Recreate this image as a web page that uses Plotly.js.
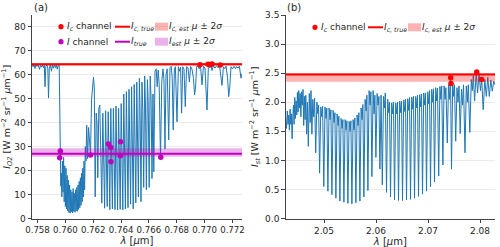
<!DOCTYPE html>
<html>
<head>
<meta charset="utf-8">
<script src="https://cdn.plot.ly/plotly-3.0.1.min.js"></script>
<style>html,body{margin:0;padding:0;background:#fff}#chart{width:500px;height:247px}</style>
</head>
<body>
<div id="chart"></div>
<script>
// ---------- Panel (a): O2 A-band ----------
const wlA = [0.757605,0.757677,0.757749,0.757821,0.757892,0.757964,0.758036,0.758144,0.758215,0.758287,0.758359,0.758431,0.758488,0.758539,0.758596,0.758668,0.758740,0.758790,0.758847,0.758919,0.759005,0.759063,0.759134,0.759206,0.759278,0.759350,0.759414,0.759486,0.759558,
0.759608,0.759637,0.759673,0.759709,0.759745,0.759788,0.759831,0.759874,0.759917,0.759960,0.760003,0.760046,0.760089,0.760132,0.760176,0.760219,0.760262,0.760305,0.760348,0.760391,0.760434,0.760477,0.760520,0.760563,0.760606,0.760649,0.760693,0.760736,0.760779,0.760822,0.760865,0.760908,0.760951,0.760994,0.761037,0.761080,0.761123,0.761166,0.761209,0.761253,0.761296,0.761339,0.761382,0.761432,0.761482,0.761533,0.761597,0.761669,0.761741,0.761805,
0.761884,0.761956,0.762021,0.762078,0.762143,0.762215,0.762272,0.762330,0.762401,0.762473,0.762545,0.762617,0.762689,0.762746,0.762818,0.762890,0.762947,0.763004,0.763076,0.763134,0.763191,0.763263,0.763320,0.763378,0.763449,0.763507,0.763565,0.763636,0.763694,0.763751,0.763823,0.763880,0.763938,0.764010,0.764067,0.764125,0.764196,0.764254,0.764311,0.764383,0.764440,0.764498,0.764570,0.764627,0.764684,0.764756,0.764814,0.764871,0.764943,0.765000,0.765058,0.765129,0.765187,0.765244,0.765316,0.765373,0.765431,0.765503,0.765560,0.765625,0.765697,0.765754,0.765819,0.765891,0.765948,0.766020,0.766092,0.766156,0.766221,0.766293,0.766350,
0.766437,0.766523,0.766594,0.766666,0.766738,0.766831,0.766924,0.767011,0.767082,0.767154,0.767226,0.767312,0.767420,0.767514,0.767600,0.767671,0.767743,0.767830,0.767901,0.768016,0.768117,0.768203,0.768275,0.768346,0.768432,0.768519,0.768612,0.768706,0.768806,0.768906,0.768993,0.769093,0.769201,0.769280,0.769352,0.769423,0.769524,0.769617,0.769703,0.769811,0.769919,0.770027,0.770170,0.770271,0.770386,0.770458,0.770529,0.770630,0.770745,0.770852,0.770960,0.771068,0.771176,0.771248,0.771348,0.771449,0.771535,0.771643,0.771729,0.771808,0.771894,0.772001,0.772109,0.772210,0.772296,0.772397,0.772497,0.772612,0.772684];
const radA = [64.2,63.4,64.3,62.6,64.2,63.5,64.3,62.3,64.0,63.2,64.2,63.0,64.0,55.0,63.5,64.2,62.8,50.3,62.5,64.2,61.5,64.1,62.8,64.2,63.0,64.2,62.4,64.0,64.2,
40,22,13.5,19,9,24,11,25.5,7,22,5,21,4,18,3.2,16,2.5,14,2.2,12,2.8,11,2.3,12.5,3,10.5,2.6,12,3.2,13,3,14,3.8,15.5,4.5,17,5.5,19,7,21,9,24,12,30,24,39,25,38,33,26.5,
50,57,59,54.5,9,44,40,17,46,47.4,27,6.4,44,30,4.3,45,22,5,44.6,28,3.7,46,20,4,46,26,3.7,47,22,3.6,46,28,3.8,48,25,3.6,52,30,4,53,32,4.5,54,34,6,55,36,4,56,38,6.5,57,40,9,58.6,42,7,57,45,13,59.5,47,12,58,49,13,59.5,50,16.7,52,19.5,
61.5,62.5,55,62,56,25,57,62.5,58,29,60,62.5,32.8,63,63.6,59,37,62.5,63.4,40.4,63.4,61.5,63.2,44,63.4,62.4,46.7,63.4,63,57,63.5,62.4,58.5,51.6,55,63.4,63.6,62.5,64,55.8,63.6,62.8,45.3,63.6,63,64,61.8,63.8,62.8,63.8,63,64,60,55.6,63.4,62.6,63.6,59,50.9,55,63.4,62.5,63.6,62.6,63.5,62.8,63.6,58.6,60.5];
const chanA_c_wl  = [0.769668,0.770242,0.770407,0.770529,0.771125];
const chanA_c_val = [64.2,64.4,64.3,64.5,64.1];
const chanA_i_wl  = [0.759637,0.759594,0.761805,0.763091,0.763263,0.763277,0.763959,0.763945,0.766853];
const chanA_i_val = [28.2,25.4,26.5,31.1,29.7,23.7,32.1,26.2,25.6];
const trueA_c = 64.4;
const bandA_c = [63.8, 65.0];
const trueA_i = 27.0;
const bandA_i = [25.8, 29.3];
const xTicksA = [0.758,0.760,0.762,0.764,0.766,0.768,0.770,0.772];

// ---------- Panel (b): strong CO2 band ----------
const wlB = [2.042635,2.042788,2.042942,2.043077,2.043212,2.043346,2.043481,2.043615,2.043731,2.043865,2.044000,2.044135,2.044250,2.044385,2.044500,2.044635,2.044769,2.044885,2.045019,2.045154,2.045288,2.045423,2.045558,2.045692,2.045827,2.045962,2.046096,2.046231,2.046365,2.046500,2.046654,2.046808,2.046981,2.047173,2.047346,2.047500,2.047673,2.047846,2.048019,2.048192,2.048404,2.048635,2.048808,2.048962,2.049154,2.049385,2.049577,2.049731,2.049962,
2.050192,2.050385,2.050538,2.050750,2.050981,2.051173,2.051327,2.051519,2.051750,2.051942,2.052096,2.052288,2.052519,2.052712,2.052865,2.053058,2.053288,2.053481,2.053635,2.053827,2.054058,2.054250,2.054404,2.054596,2.054827,2.055019,2.055173,2.055365,2.055596,2.055788,2.055942,2.056135,2.056365,2.056558,2.056712,2.056904,2.057135,2.057327,2.057481,2.057673,2.057904,2.058096,2.058250,2.058442,2.058673,2.058865,2.059019,2.059212,2.059442,2.059635,2.059788,2.059981,
2.060212,2.060404,2.060558,2.060750,2.060981,2.061212,2.061442,2.061635,2.061788,2.062019,2.062250,2.062442,2.062596,2.062788,2.063019,2.063212,2.063365,2.063558,2.063788,2.063981,2.064135,2.064327,2.064558,2.064750,2.064904,2.065096,2.065327,2.065519,2.065673,2.065865,2.066096,2.066288,2.066442,2.066635,2.066865,2.067058,2.067212,2.067404,2.067635,2.067827,2.067981,2.068173,2.068404,2.068596,2.068750,2.068942,2.069173,2.069365,2.069519,2.069712,2.069942,
2.070135,2.070288,2.070481,2.070712,2.070904,2.071058,2.071250,2.071481,2.071673,2.071827,2.072058,2.072288,2.072481,2.072635,2.072865,2.073096,2.073288,2.073442,2.073712,2.073942,2.074135,2.074327,2.074519,2.074750,2.074942,2.075096,2.075327,2.075577,2.075769,2.075962,2.076192,2.076442,2.076635,2.076827,2.077115,2.077365,2.077558,2.077750,2.078038,2.078327,2.078519,2.078712,2.078962,2.079269,2.079538,2.079808,2.080096,2.080327,2.080615,2.080923,2.081212,2.081500,2.081788,2.082077,2.082365,2.082635,2.082885];
const radB = [1.72,1.55,1.85,1.62,1.78,1.52,1.88,1.62,1.8,1.37,1.75,1.95,1.62,2.08,1.72,2.02,1.78,2.17,1.83,2.2,1.9,2.15,1.75,2.18,1.95,2.22,1.6,2.1,1.7,2.12,1.45,2.0,1.24,2.15,1.65,2.2,1.45,2.05,1.75,2.07,1.13,2.0,1.8,1.95,0.78,1.92,1.75,1.93,0.55,
1.92,1.72,1.9,0.47,1.9,1.7,1.87,0.41,1.86,1.65,1.82,0.35,1.8,1.6,1.76,0.3,1.72,1.55,1.7,0.28,1.7,1.52,1.68,0.26,1.67,1.5,1.68,0.25,1.7,1.52,1.73,0.27,1.78,1.6,1.82,0.3,1.9,1.7,1.96,0.37,2.05,1.85,2.12,0.48,2.2,1.95,2.18,0.72,2.2,1.8,2.12,1.05,
2.15,1.95,2.1,0.85,2.12,0.58,2.1,1.9,2.16,0.45,2.05,1.82,2.0,0.37,1.99,1.8,2.0,0.32,1.99,1.8,2.0,0.31,2.02,1.82,2.02,0.31,2.04,1.84,2.05,0.32,2.06,1.86,2.08,0.33,2.09,1.88,2.1,0.35,2.1,1.9,2.12,0.38,2.13,1.92,2.14,0.42,2.16,1.95,2.16,0.47,2.18,
1.97,2.2,0.55,2.22,2.0,2.23,0.63,2.25,2.02,2.24,0.73,2.27,2.05,2.28,0.92,2.28,2.05,2.25,1.3,2.3,2.05,2.42,0.85,2.33,2.1,2.3,1.33,2.25,2.0,2.28,1.46,2.22,1.95,2.3,1.13,2.28,2.0,2.3,1.48,2.39,2.2,2.46,2.02,2.52,2.16,2.5,2.2,2.4,1.87,2.39,2.1,2.43,2.1,2.38,2.19,2.36,2.3];
const chanB_c_wl  = [2.07437,2.07442,2.07937,2.08033];
const chanB_c_val = [2.42,2.32,2.52,2.39];
const trueB_c = 2.475;
const bandB_c = [2.35, 2.50];
const xTicksB = [2.05,2.06,2.07,2.08];

// ---------- styling ----------
const FONT = 'DejaVu Sans, Verdana, sans-serif';
const BLUE = '#1f77b4', RED = '#ff0000', MAG = '#bf00bf';
const RED_FILL = 'rgba(255,0,0,0.3)', MAG_FILL = 'rgba(191,0,191,0.3)';
const W = 500, H = 247;

function band(xs, lims, color, xa, ya) {
  const a = xs[0], b = xs[xs.length-1];
  return {x:[a,b,b,a,a], y:[lims[0],lims[0],lims[1],lims[1],lims[0]], xaxis:xa, yaxis:ya,
    mode:'lines', fill:'toself', fillcolor:color, line:{width:0}, hoverinfo:'skip', showlegend:false};
}
function hline(xs, v, color, xa, ya) {
  return {x:[xs[0], xs[xs.length-1]], y:[v,v], xaxis:xa, yaxis:ya, mode:'lines',
    line:{color:color, width:2}, hoverinfo:'skip', showlegend:false};
}
function dots(x, y, color, xa, ya) {
  return {x:x, y:y, xaxis:xa, yaxis:ya, mode:'markers', marker:{color:color, size:5.5}, showlegend:false};
}

const traces = [
  {x:wlA, y:radA, xaxis:'x', yaxis:'y', mode:'lines', line:{color:BLUE, width:1}, showlegend:false},
  band(wlA, bandA_c, RED_FILL, 'x', 'y'),
  band(wlA, bandA_i, MAG_FILL, 'x', 'y'),
  hline(wlA, trueA_c, RED, 'x', 'y'),
  hline(wlA, trueA_i, MAG, 'x', 'y'),
  dots(chanA_c_wl, chanA_c_val, RED, 'x', 'y'),
  dots(chanA_i_wl, chanA_i_val, MAG, 'x', 'y'),
  {x:wlB, y:radB, xaxis:'x2', yaxis:'y2', mode:'lines', line:{color:BLUE, width:1}, showlegend:false},
  band(wlB, bandB_c, RED_FILL, 'x2', 'y2'),
  hline(wlB, trueB_c, RED, 'x2', 'y2'),
  dots(chanB_c_wl, chanB_c_val, RED, 'x2', 'y2')
];

const yDom = [1 - 218.5/H, 1 - 15/H];
const axCommon = {showline:true, linecolor:'#444', linewidth:1, ticks:'outside', ticklen:3.5, tickwidth:0.8,
  tickcolor:'#444', tickfont:{family:FONT, size:9, color:'#262626'}, zeroline:false, automargin:false, tickangle:0};
const yTitle = (sub, so) => ({text:'<i>I</i><sub><i>'+sub+'</i></sub> [W m<sup>−2</sup> sr<sup>−1</sup> <i>μ</i>m<sup>−1</sup>]',
  font:{family:FONT, size:9.5, color:'#262626'}, standoff:so});
const xTitle = {text:'<i>λ</i> [<i>μ</i>m]', font:{family:FONT, size:10, color:'#262626'}, standoff:2};

// legend built from shapes + annotations (paper coords from pixel positions)
const px = v => v / W, py = v => 1 - v / H;
const shapes = [], ann = [];
function legDot(x, y, color) {
  shapes.push({type:'circle', xref:'paper', yref:'paper', x0:px(x-2.6), x1:px(x+2.6), y0:py(y+2.6), y1:py(y-2.6),
    fillcolor:color, line:{width:0}});
}
function legLine(x0, x1, y, color) {
  shapes.push({type:'line', xref:'paper', yref:'paper', x0:px(x0), x1:px(x1), y0:py(y), y1:py(y), line:{color:color, width:2}});
}
function legPatch(x0, x1, y, color) {
  shapes.push({type:'rect', xref:'paper', yref:'paper', x0:px(x0), x1:px(x1), y0:py(y+4), y1:py(y-4), fillcolor:color, line:{width:0}});
}
function legText(x, y, t) {
  ann.push({xref:'paper', yref:'paper', x:px(x), y:py(y), xanchor:'left', yanchor:'middle', showarrow:false,
    text:t, font:{family:FONT, size:9, color:'#262626'}, borderpad:0});
}
const mu2s = ' <i>μ</i> ± 2<i>σ</i>';
// panel (a) row 1
legDot(61, 26.7, RED); legText(66, 26.7, '<i>I</i><sub><i>c</i></sub> channel');
legLine(115, 130, 26.7, RED); legText(130, 26.7, '<i>I</i><sub><i>c, true</i></sub>');
legPatch(155, 168, 26.7, RED_FILL); legText(168, 26.7, '<i>I</i><sub><i>c, est</i></sub>' + mu2s);
// panel (a) row 2
legDot(61, 41.7, MAG); legText(66, 41.7, '<i>I</i> channel');
legLine(115, 130, 41.7, MAG); legText(130, 41.7, '<i>I</i><sub><i>true</i></sub>');
legPatch(155, 168, 41.7, MAG_FILL); legText(168, 41.7, '<i>I</i><sub><i>est</i></sub>' + mu2s);
// panel (b)
legDot(315, 27.3, RED); legText(320, 27.3, '<i>I</i><sub><i>c</i></sub> channel');
legLine(368, 383, 27.3, RED); legText(383, 27.3, '<i>I</i><sub><i>c, true</i></sub>');
legPatch(408, 421, 27.3, RED_FILL); legText(421, 27.3, '<i>I</i><sub><i>c, est</i></sub>' + mu2s);
// panel labels
ann.push({xref:'paper', yref:'paper', x:px(32), y:py(8), xanchor:'left', yanchor:'middle', showarrow:false,
  text:'(a)', font:{family:FONT, size:10, color:'#262626'}});
ann.push({xref:'paper', yref:'paper', x:px(285), y:py(8), xanchor:'left', yanchor:'middle', showarrow:false,
  text:'(b)', font:{family:FONT, size:10, color:'#262626'}});

const layout = {
  width:W, height:H, margin:{l:0, r:0, t:0, b:0}, paper_bgcolor:'#fff', plot_bgcolor:'#fff',
  showlegend:false, font:{family:FONT},
  xaxis: Object.assign({}, axCommon, {domain:[32/W, 242/W], range:[wlA[0], wlA[wlA.length-1]],
    tickvals:xTicksA, tickformat:'.3f', showgrid:false, anchor:'y', title:xTitle, tickfont:{family:FONT, size:8.6, color:'#262626'}}),
  yaxis: Object.assign({}, axCommon, {domain:yDom, range:[0, 85], dtick:10, showgrid:true,
    gridcolor:'#ebebeb', gridwidth:1, anchor:'x', title:yTitle('O2', 1)}),
  xaxis2: Object.assign({}, axCommon, {domain:[285.7/W, 495/W], range:[wlB[0], wlB[wlB.length-1]],
    tickvals:xTicksB, tickformat:'.2f', showgrid:false, anchor:'y2', title:xTitle}),
  yaxis2: Object.assign({}, axCommon, {domain:yDom, range:[0, 3.5], dtick:0.5, tickformat:'.1f', showgrid:true,
    gridcolor:'#ebebeb', gridwidth:1, anchor:'x2', title:yTitle('st', 4)}),
  shapes:shapes, annotations:ann
};
Plotly.newPlot('chart', traces, layout, {displayModeBar:false});
</script>
</body>
</html>
